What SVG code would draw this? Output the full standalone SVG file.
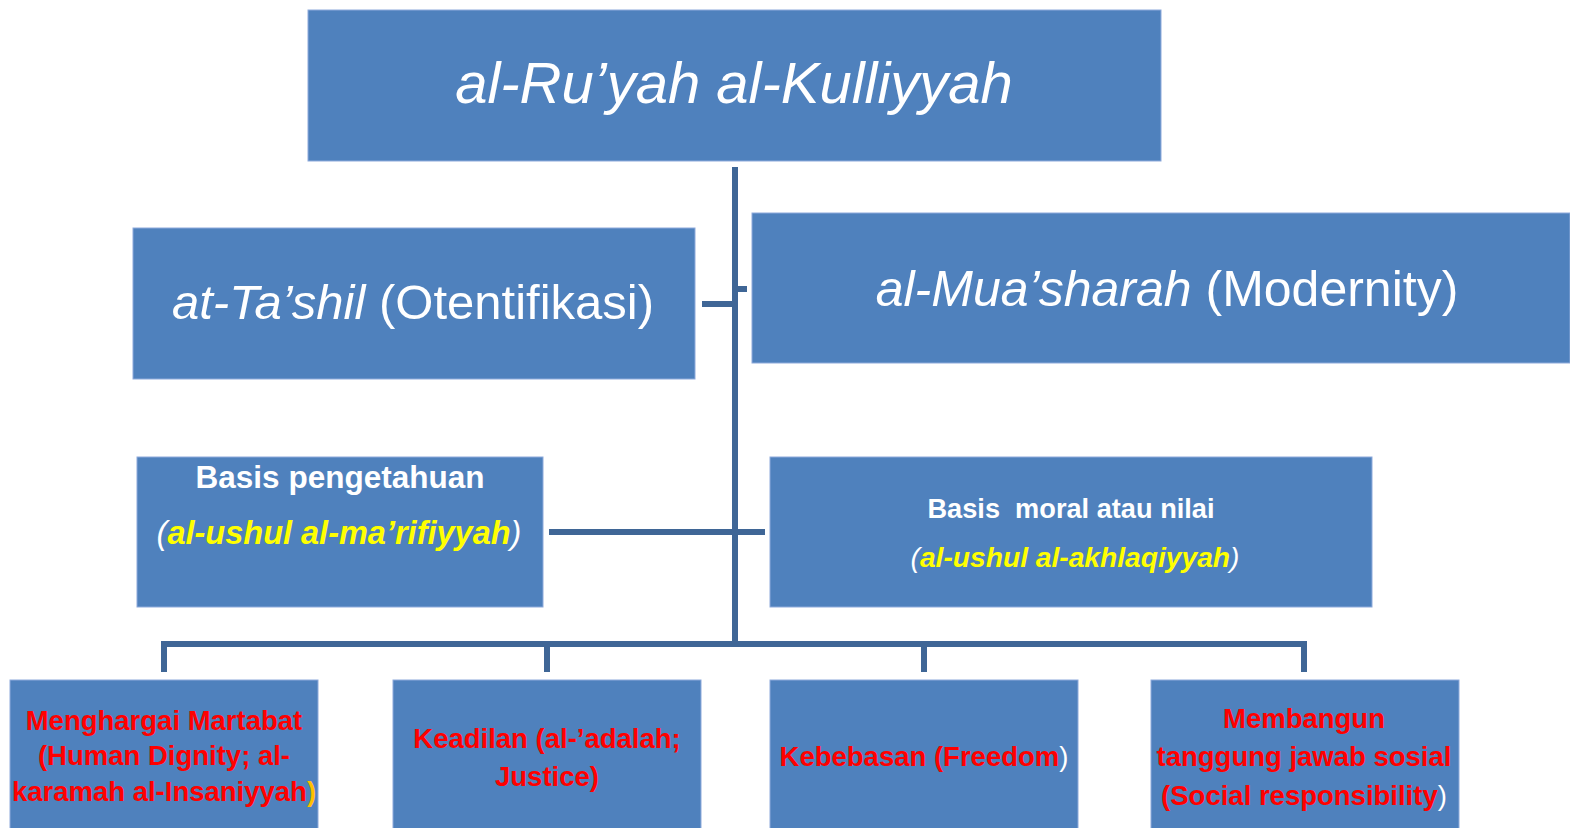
<svg xmlns="http://www.w3.org/2000/svg" width="1570" height="828" viewBox="0 0 1570 828">
<style>
.box{fill:#4F81BD;stroke:#8EAADB;stroke-width:1}
.ln{stroke:#3F6696;stroke-width:6;fill:none}
text{font-family:"Liberation Sans",Arial,sans-serif;text-anchor:middle}
.w{fill:#FFFFFF}
.red{fill:#FF0000;font-weight:bold;font-size:27.5px}
.y{fill:#FFFF00;font-weight:bold}
.it{font-style:italic}
</style>
<rect width="1570" height="828" fill="#FFFFFF"/>
<g id="connectors">
<path class="ln" d="M735 167 V642"/>
<path class="ln" d="M702 304 H735"/>
<path class="ln" d="M738 289 H747"/>
<path class="ln" d="M549 532 H765"/>
<path class="ln" d="M164 672 V644 H1304 V672"/>
<path class="ln" d="M547 644 V672"/>
<path class="ln" d="M924 644 V672"/>
</g>
<g id="node-top">
<rect class="box" x="308" y="10" width="853" height="151"/>
<text class="w it" x="734" y="103" font-size="58">al-Ru’yah al-Kulliyyah</text>
</g>
<g id="node-tashil">
<rect class="box" x="133" y="228" width="562" height="151"/>
<text class="w" x="413" y="319" font-size="49"><tspan class="it">at-Ta’shil</tspan> (Otentifikasi)</text>
</g>
<g id="node-muasharah">
<rect class="box" x="752" y="213" width="818" height="150"/>
<text class="w" x="1167" y="306" font-size="50"><tspan class="it">al-Mua’sharah</tspan> (Modernity)</text>
</g>
<g id="node-pengetahuan">
<rect class="box" x="137" y="457" width="406" height="150"/>
<text class="w" x="340" y="488" font-size="31.5" font-weight="bold">Basis pengetahuan</text>
<text class="w it" x="339" y="544" font-size="32.5">(<tspan class="y">al-ushul al-ma’rifiyyah</tspan>)</text>
</g>
<g id="node-moral">
<rect class="box" x="770" y="457" width="602" height="150"/>
<text class="w" x="1071" y="518" font-size="27.2" font-weight="bold" xml:space="preserve">Basis  moral atau nilai</text>
<text class="w it" x="1075" y="567" font-size="28.2">(<tspan class="y">al-ushul al-akhlaqiyyah</tspan>)</text>
</g>
<g id="node-martabat">
<rect class="box" x="10" y="680" width="308" height="160"/>
<text class="red" x="164" y="730" font-size="28.5">Menghargai Martabat</text>
<text class="red" x="164" y="765" font-size="28.5">(Human Dignity; al-</text>
<text class="red" x="164" y="801" font-size="28.5">karamah al-Insaniyyah<tspan fill="#FFC000">)</tspan></text>
</g>
<g id="node-keadilan">
<rect class="box" x="393" y="680" width="308" height="160"/>
<text class="red" x="547" y="748">Keadilan (al-’adalah;</text>
<text class="red" x="547" y="786">Justice)</text>
</g>
<g id="node-kebebasan">
<rect class="box" x="770" y="680" width="308" height="160"/>
<text class="red" x="924" y="766">Kebebasan (Freedom<tspan fill="#FFFFFF" font-weight="normal">)</tspan></text>
</g>
<g id="node-sosial">
<rect class="box" x="1151" y="680" width="308" height="160"/>
<text class="red" x="1304" y="728">Membangun</text>
<text class="red" x="1304" y="766">tanggung jawab sosial</text>
<text class="red" x="1304" y="805">(Social responsibility<tspan fill="#FFFFFF" font-weight="normal">)</tspan></text>
</g>
</svg>
